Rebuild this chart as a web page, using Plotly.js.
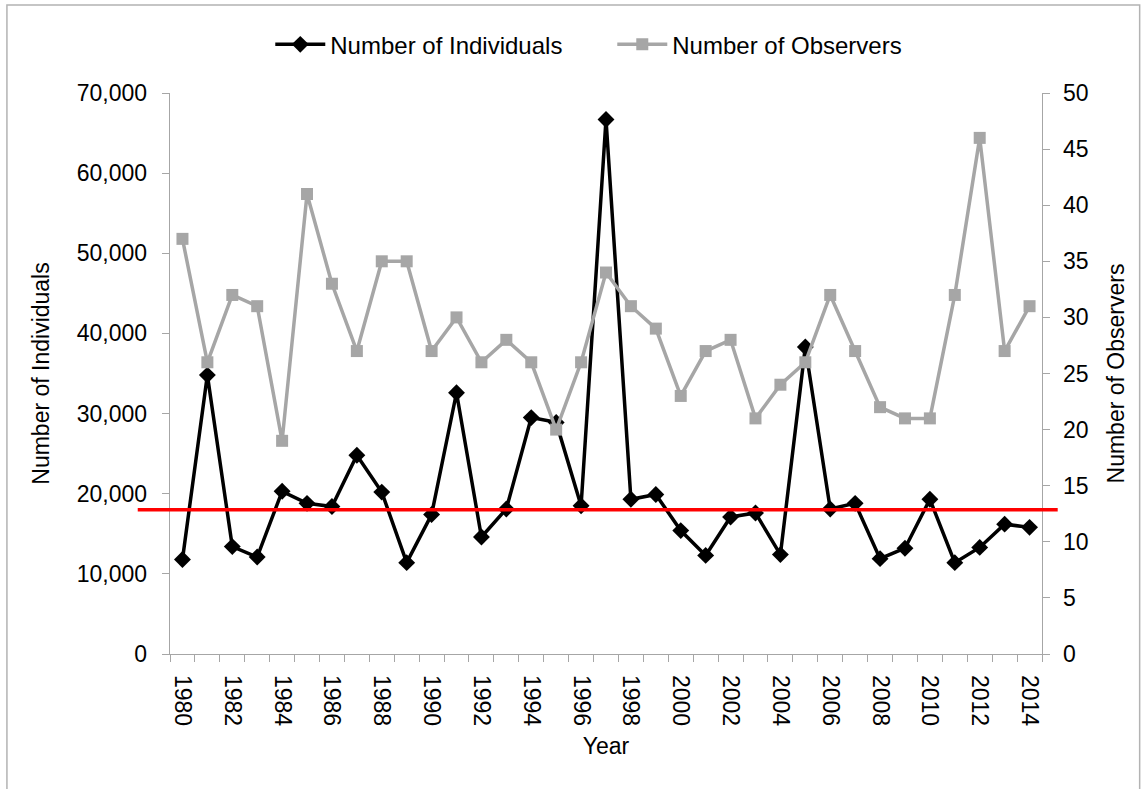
<!DOCTYPE html>
<html>
<head>
<meta charset="utf-8">
<script src="https://cdn.plot.ly/plotly-3.0.1.min.js"></script>
<style>
  html, body { margin: 0; padding: 0; background: #ffffff; }
  #chart { width: 1145px; height: 789px; }
</style>
</head>
<body>
<div id="chart"></div>
<script>
// ---- data ----
const years = [1980, 1981, 1982, 1983, 1984, 1985, 1986, 1987, 1988, 1989,
               1990, 1991, 1992, 1993, 1994, 1995, 1996, 1997, 1998, 1999,
               2000, 2001, 2002, 2003, 2004, 2005, 2006, 2007, 2008, 2009,
               2010, 2011, 2012, 2013, 2014];
const individuals = [11800, 34800, 13400, 12100, 20300, 18800, 18400, 24800, 20200, 11400,
                     17400, 32600, 14600, 18100, 29500, 28900, 18500, 66700, 19300, 19900,
                     15400, 12300, 17100, 17600, 12400, 38300, 18100, 18800, 11900, 13200,
                     19300, 11400, 13300, 16200, 15800];
const observers = [37, 26, 32, 31, 19, 41, 33, 27, 35, 35,
                   27, 30, 26, 28, 26, 20, 26, 34, 31, 29,
                   23, 27, 28, 21, 24, 26, 32, 27, 22, 21,
                   21, 32, 46, 27, 31];
const yearTickLabels = [1980, 1982, 1984, 1986, 1988, 1990, 1992, 1994, 1996, 1998,
                        2000, 2002, 2004, 2006, 2008, 2010, 2012, 2014];
const referenceLevel = 18000;

const font = 'Liberation Sans, Arial, sans-serif';
const axisGray = '#a6a6a6';
const fs = 23;

const traces = [
  {
    x: years, y: individuals, name: 'Number of Individuals',
    type: 'scatter', mode: 'lines+markers',
    line: {color: '#000000', width: 3.5},
    marker: {symbol: 'diamond', size: 13, color: '#000000'},
    yaxis: 'y'
  },
  {
    x: years, y: observers, name: 'Number of Observers',
    type: 'scatter', mode: 'lines+markers',
    line: {color: '#a6a6a6', width: 3.5},
    marker: {symbol: 'square', size: 12, color: '#a6a6a6'},
    yaxis: 'y2'
  }
];

const layout = {
  width: 1145, height: 789,
  margin: {l: 170, r: 103, t: 93, b: 135},
  paper_bgcolor: '#ffffff', plot_bgcolor: '#ffffff',
  font: {family: font, size: fs, color: '#000000'},
  showlegend: true,
  legend: {
    orientation: 'h', x: 0.115, y: 1.086, xanchor: 'left', yanchor: 'middle',
    font: {family: font, size: 24, color: '#000000'},
    itemwidth: 50, entrywidth: 277, entrywidthmode: 'pixels',
    itemclick: false, bgcolor: 'rgba(0,0,0,0)'
  },
  xaxis: {
    type: 'linear', range: [1979.5, 2014.5],
    tickmode: 'array', tickvals: yearTickLabels, ticktext: yearTickLabels.map(String),
    tickangle: 90, ticks: '', ticklabelstandoff: 15,
    minor: {ticks: 'outside', ticklen: 7, tickcolor: axisGray, tickwidth: 1, tick0: 1979.5, dtick: 1, showgrid: false},
    showline: true, linecolor: axisGray, linewidth: 1.3,
    showgrid: false, zeroline: false,
    tickfont: {family: font, size: fs, color: '#000000'},
    title: {text: 'Year', font: {family: font, size: fs, color: '#000000'}, standoff: 12}
  },
  yaxis: {
    range: [0, 70000], dtick: 10000, tick0: 0, tickformat: ',d',
    ticks: 'outside', ticklen: 7, tickcolor: axisGray, tickwidth: 1,
    showline: true, linecolor: axisGray, linewidth: 1.3,
    showgrid: false, zeroline: false, ticklabelstandoff: 10,
    tickfont: {family: font, size: fs, color: '#000000'},
    title: {text: 'Number of Individuals', font: {family: font, size: fs, color: '#000000'}, standoff: 20}
  },
  yaxis2: {
    overlaying: 'y', side: 'right',
    range: [0, 50], dtick: 5, tick0: 0,
    ticks: 'outside', ticklen: 7, tickcolor: axisGray, tickwidth: 1,
    showline: true, linecolor: axisGray, linewidth: 1.3,
    showgrid: false, zeroline: false, ticklabelstandoff: 8,
    tickfont: {family: font, size: fs, color: '#000000'},
    title: {text: 'Number of Observers', font: {family: font, size: fs, color: '#000000'}, standoff: 20}
  },
  shapes: [
    {
      type: 'line', xref: 'paper', yref: 'y',
      x0: -0.037, x1: 1.018, y0: referenceLevel, y1: referenceLevel,
      line: {color: '#ff0000', width: 3.5}, layer: 'above'
    },
    {
      type: 'rect', xref: 'paper', yref: 'paper',
      x0: -0.187, x1: 1.112, y0: -0.3, y1: 1.157,
      line: {color: '#b3b3b3', width: 1.5}, fillcolor: 'rgba(0,0,0,0)', layer: 'below'
    }
  ]
};

Plotly.newPlot('chart', traces, layout, {displayModeBar: false, staticPlot: true});
</script>
</body>
</html>
